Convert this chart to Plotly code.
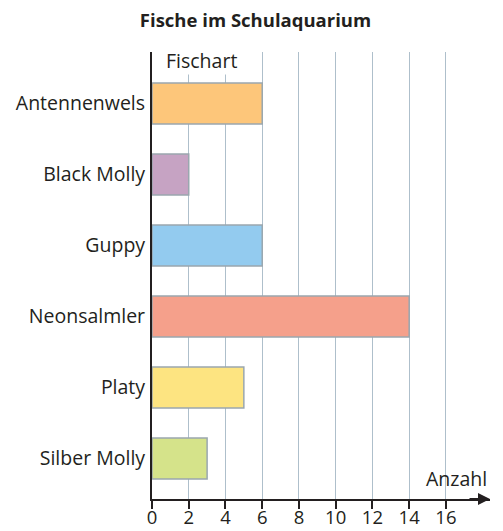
import plotly.graph_objects as go

categories = ["Antennenwels", "Black Molly", "Guppy", "Neonsalmler", "Platy", "Silber Molly"]
values = [6, 2, 6, 14, 5, 3]
colors = ["#FDC67A", "#C6A3C3", "#93CBEF", "#F5A08B", "#FDE481", "#D5E38A"]
tick_vals = [0, 2, 4, 6, 8, 10, 12, 14, 16]
title = "Fische im Schulaquarium"
y_label = "Fischart"
x_label = "Anzahl"

FONT = "Open Sans, Noto Sans, sans-serif"
ink = "#231F20"
grid = "#AEBFCB"

fig = go.Figure()
fig.add_trace(go.Bar(
    y=categories, x=values, orientation="h",
    marker=dict(color=colors, line=dict(color="#9AA7AF", width=1.5)),
    width=0.58, hoverinfo="skip",
))

# page has an 8px body margin, so the figure is 8px smaller than the window
fig.update_layout(
    width=495, height=523,
    margin=dict(l=144, r=13, t=44, b=32),
    paper_bgcolor="white", plot_bgcolor="white",
    showlegend=False,
    font=dict(family=FONT, size=19.5, color=ink),
    title=dict(text="<b>" + title + "</b>", x=0.5, xanchor="center", y=0.977, yanchor="middle",
               font=dict(family=FONT, size=18.5, color=ink)),
    xaxis=dict(
        range=[0, 18.4], tickvals=tick_vals, showgrid=True, gridcolor=grid, gridwidth=1.3,
        zeroline=False, showline=True, linecolor=ink, linewidth=2,
        ticks="outside", ticklen=8, tickwidth=2, tickcolor=ink, automargin=False,
        tickfont=dict(family=FONT, size=18.5, color=ink), layer="above traces",
        ticklabelstandoff=-7,
    ),
    yaxis=dict(
        categoryorder="array", categoryarray=categories,
        range=[5.57, -0.725], showgrid=False, zeroline=False, automargin=False,
        showline=True, linecolor=ink, linewidth=2, ticks="",
        tickfont=dict(family=FONT, size=19.5, color=ink), ticklabelstandoff=1,
    ),
)

fig.add_annotation(x=0.7, y=1, xref="x", yref="paper", text=y_label, showarrow=False,
                   xanchor="left", yanchor="top", bgcolor="white", borderpad=0, yshift=6,
                   font=dict(family=FONT, size=19.5, color=ink))
fig.add_annotation(x=18.35, y=0, xref="x", yref="paper", text=x_label, showarrow=False,
                   xanchor="right", yanchor="bottom", yshift=5,
                   font=dict(family=FONT, size=19.5, color=ink))
fig.add_annotation(x=18.4, y=0, xref="x", yref="paper", ax=-22, ay=0, text="",
                   showarrow=True, arrowhead=2, arrowsize=1.2, arrowwidth=2, arrowcolor=ink,
                   standoff=0)

fig.write_html("out.html")
